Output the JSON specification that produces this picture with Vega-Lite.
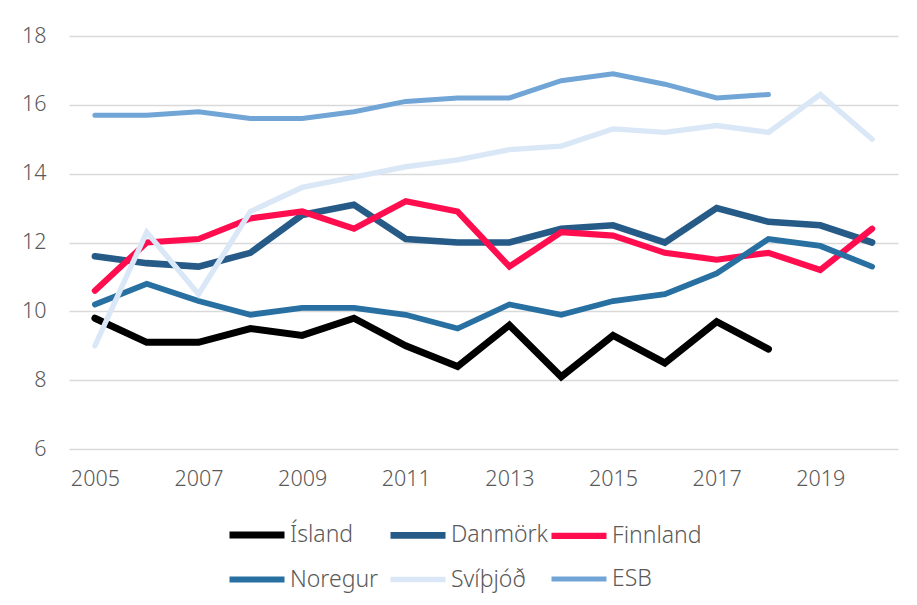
{
  "$schema": "https://vega.github.io/schema/vega-lite/v6.json",
  "width": 829,
  "height": 413,
  "autosize": {"type": "none"},
  "padding": {"left": 69, "top": 36, "right": 19, "bottom": 156},
  "background": "white",
  "config": {
    "view": {"stroke": null},
    "font": "Noto Sans",
    "axis": {"labelFont": "Noto Sans", "labelColor": "#595959", "labelFontSize": 21.5, "labelFontWeight": 300}
  },
  "data": {
    "values": [
      {"ar": 2005, "land": "Ísland", "v": 9.8},
      {"ar": 2006, "land": "Ísland", "v": 9.1},
      {"ar": 2007, "land": "Ísland", "v": 9.1},
      {"ar": 2008, "land": "Ísland", "v": 9.5},
      {"ar": 2009, "land": "Ísland", "v": 9.3},
      {"ar": 2010, "land": "Ísland", "v": 9.8},
      {"ar": 2011, "land": "Ísland", "v": 9.0},
      {"ar": 2012, "land": "Ísland", "v": 8.4},
      {"ar": 2013, "land": "Ísland", "v": 9.6},
      {"ar": 2014, "land": "Ísland", "v": 8.1},
      {"ar": 2015, "land": "Ísland", "v": 9.3},
      {"ar": 2016, "land": "Ísland", "v": 8.5},
      {"ar": 2017, "land": "Ísland", "v": 9.7},
      {"ar": 2018, "land": "Ísland", "v": 8.9},

      {"ar": 2005, "land": "Danmörk", "v": 11.6},
      {"ar": 2006, "land": "Danmörk", "v": 11.4},
      {"ar": 2007, "land": "Danmörk", "v": 11.3},
      {"ar": 2008, "land": "Danmörk", "v": 11.7},
      {"ar": 2009, "land": "Danmörk", "v": 12.8},
      {"ar": 2010, "land": "Danmörk", "v": 13.1},
      {"ar": 2011, "land": "Danmörk", "v": 12.1},
      {"ar": 2012, "land": "Danmörk", "v": 12.0},
      {"ar": 2013, "land": "Danmörk", "v": 12.0},
      {"ar": 2014, "land": "Danmörk", "v": 12.4},
      {"ar": 2015, "land": "Danmörk", "v": 12.5},
      {"ar": 2016, "land": "Danmörk", "v": 12.0},
      {"ar": 2017, "land": "Danmörk", "v": 13.0},
      {"ar": 2018, "land": "Danmörk", "v": 12.6},
      {"ar": 2019, "land": "Danmörk", "v": 12.5},
      {"ar": 2020, "land": "Danmörk", "v": 12.0},

      {"ar": 2005, "land": "Finnland", "v": 10.6},
      {"ar": 2006, "land": "Finnland", "v": 12.0},
      {"ar": 2007, "land": "Finnland", "v": 12.1},
      {"ar": 2008, "land": "Finnland", "v": 12.7},
      {"ar": 2009, "land": "Finnland", "v": 12.9},
      {"ar": 2010, "land": "Finnland", "v": 12.4},
      {"ar": 2011, "land": "Finnland", "v": 13.2},
      {"ar": 2012, "land": "Finnland", "v": 12.9},
      {"ar": 2013, "land": "Finnland", "v": 11.3},
      {"ar": 2014, "land": "Finnland", "v": 12.3},
      {"ar": 2015, "land": "Finnland", "v": 12.2},
      {"ar": 2016, "land": "Finnland", "v": 11.7},
      {"ar": 2017, "land": "Finnland", "v": 11.5},
      {"ar": 2018, "land": "Finnland", "v": 11.7},
      {"ar": 2019, "land": "Finnland", "v": 11.2},
      {"ar": 2020, "land": "Finnland", "v": 12.4},

      {"ar": 2005, "land": "Noregur", "v": 10.2},
      {"ar": 2006, "land": "Noregur", "v": 10.8},
      {"ar": 2007, "land": "Noregur", "v": 10.3},
      {"ar": 2008, "land": "Noregur", "v": 9.9},
      {"ar": 2009, "land": "Noregur", "v": 10.1},
      {"ar": 2010, "land": "Noregur", "v": 10.1},
      {"ar": 2011, "land": "Noregur", "v": 9.9},
      {"ar": 2012, "land": "Noregur", "v": 9.5},
      {"ar": 2013, "land": "Noregur", "v": 10.2},
      {"ar": 2014, "land": "Noregur", "v": 9.9},
      {"ar": 2015, "land": "Noregur", "v": 10.3},
      {"ar": 2016, "land": "Noregur", "v": 10.5},
      {"ar": 2017, "land": "Noregur", "v": 11.1},
      {"ar": 2018, "land": "Noregur", "v": 12.1},
      {"ar": 2019, "land": "Noregur", "v": 11.9},
      {"ar": 2020, "land": "Noregur", "v": 11.3},

      {"ar": 2005, "land": "Svíþjóð", "v": 9.0},
      {"ar": 2006, "land": "Svíþjóð", "v": 12.3},
      {"ar": 2007, "land": "Svíþjóð", "v": 10.5},
      {"ar": 2008, "land": "Svíþjóð", "v": 12.9},
      {"ar": 2009, "land": "Svíþjóð", "v": 13.6},
      {"ar": 2010, "land": "Svíþjóð", "v": 13.9},
      {"ar": 2011, "land": "Svíþjóð", "v": 14.2},
      {"ar": 2012, "land": "Svíþjóð", "v": 14.4},
      {"ar": 2013, "land": "Svíþjóð", "v": 14.7},
      {"ar": 2014, "land": "Svíþjóð", "v": 14.8},
      {"ar": 2015, "land": "Svíþjóð", "v": 15.3},
      {"ar": 2016, "land": "Svíþjóð", "v": 15.2},
      {"ar": 2017, "land": "Svíþjóð", "v": 15.4},
      {"ar": 2018, "land": "Svíþjóð", "v": 15.2},
      {"ar": 2019, "land": "Svíþjóð", "v": 16.3},
      {"ar": 2020, "land": "Svíþjóð", "v": 15.0},

      {"ar": 2005, "land": "ESB", "v": 15.7},
      {"ar": 2006, "land": "ESB", "v": 15.7},
      {"ar": 2007, "land": "ESB", "v": 15.8},
      {"ar": 2008, "land": "ESB", "v": 15.6},
      {"ar": 2009, "land": "ESB", "v": 15.6},
      {"ar": 2010, "land": "ESB", "v": 15.8},
      {"ar": 2011, "land": "ESB", "v": 16.1},
      {"ar": 2012, "land": "ESB", "v": 16.2},
      {"ar": 2013, "land": "ESB", "v": 16.2},
      {"ar": 2014, "land": "ESB", "v": 16.7},
      {"ar": 2015, "land": "ESB", "v": 16.9},
      {"ar": 2016, "land": "ESB", "v": 16.6},
      {"ar": 2017, "land": "ESB", "v": 16.2},
      {"ar": 2018, "land": "ESB", "v": 16.3}
    ]
  },
  "mark": {"type": "line", "strokeCap": "round", "strokeJoin": "miter"},
  "encoding": {
    "x": {
      "field": "ar",
      "type": "ordinal",
      "scale": {"type": "point", "padding": 0.5},
      "axis": {
        "title": null,
        "values": [2005, 2007, 2009, 2011, 2013, 2015, 2017, 2019],
        "labelAngle": 0,
        "ticks": false,
        "domain": false,
        "labelPadding": 19
      }
    },
    "y": {
      "field": "v",
      "type": "quantitative",
      "scale": {"domain": [6, 18], "nice": false, "zero": false},
      "axis": {
        "title": null,
        "values": [6, 8, 10, 12, 14, 16, 18],
        "ticks": false,
        "domain": false,
        "labelPadding": 23,
        "gridColor": "#D9D9D9",
        "gridWidth": 1.5
      }
    },
    "color": {
      "field": "land",
      "type": "nominal",
      "sort": ["Ísland", "Danmörk", "Finnland", "Noregur", "Svíþjóð", "ESB"],
      "scale": {
        "domain": ["Ísland", "Danmörk", "Finnland", "Noregur", "Svíþjóð", "ESB"],
        "range": ["#000000", "#265A87", "#FF0D4F", "#2870A2", "#DAE7F6", "#70A5D6"]
      },
      "legend": {
        "title": null,
        "orient": "none",
        "legendX": 157,
        "legendY": 468,
        "direction": "horizontal",
        "columns": 3,
        "gridAlign": "all",
        "columnPadding": -13,
        "rowPadding": -10,
        "padding": 0,
        "symbolType": "stroke",
        "symbolSize": 3025,
        "symbolStrokeWidth": 5,
        "symbolOffset": 0,
        "labelOffset": 2,
        "labelFont": "Noto Sans",
        "labelFontSize": 23,
        "labelFontWeight": 300,
        "labelColor": "#595959",
        "labelLimit": 200
      }
    },
    "strokeWidth": {
      "field": "land",
      "type": "nominal",
      "scale": {
        "domain": ["Ísland", "Danmörk", "Finnland", "Noregur", "Svíþjóð", "ESB"],
        "range": [7, 5, 5, 5, 5, 5]
      },
      "legend": null
    }
  }
}
